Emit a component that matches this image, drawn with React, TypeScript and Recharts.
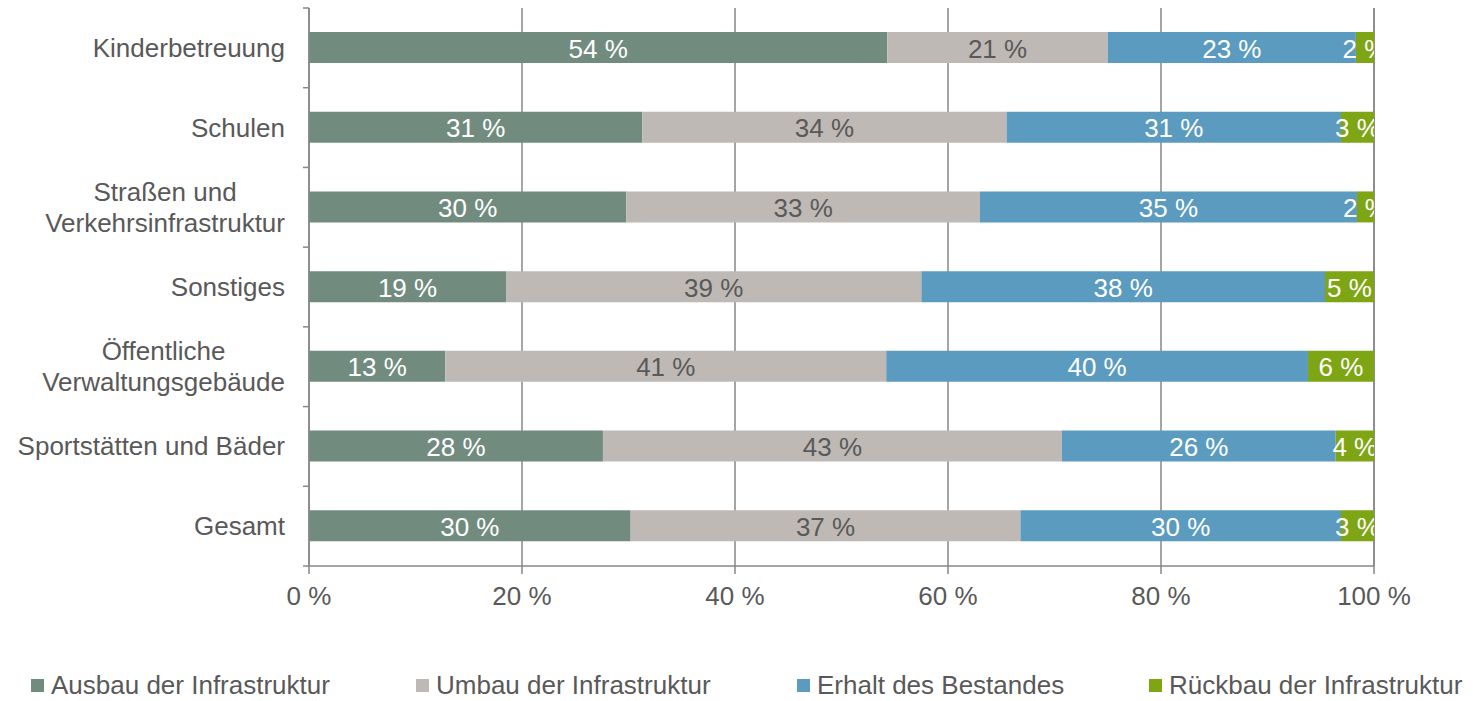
import { Bar, BarChart, CartesianGrid, LabelList, Legend, XAxis, YAxis } from "recharts";

const CATEGORIES = [
  "Kinderbetreuung",
  "Schulen",
  "Straßen und\nVerkehrsinfrastruktur",
  "Sonstiges",
  "Öffentliche\nVerwaltungsgebäude",
  "Sportstätten und Bäder",
  "Gesamt",
];

const AUSBAU = [54.3, 31.3, 29.8, 18.5, 12.8, 27.6, 30.2];
const UMBAU = [20.7, 34.2, 33.2, 39.0, 41.4, 43.1, 36.6];
const ERHALT = [23.3, 31.4, 35.4, 37.9, 39.6, 25.7, 30.1];
const RUECKBAU = [1.7, 3.1, 1.6, 4.6, 6.2, 3.6, 3.1];

const X_TICKS = [0, 20, 40, 60, 80, 100];

const SERIES = [
  { key: "ausbau", name: "Ausbau der Infrastruktur", color: "#718C7F", label: "#FFFFFF" },
  { key: "umbau", name: "Umbau der Infrastruktur", color: "#BEB9B5", label: "#595959" },
  { key: "erhalt", name: "Erhalt des Bestandes", color: "#5B9BBF", label: "#FFFFFF" },
  { key: "rueckbau", name: "Rückbau der Infrastruktur", color: "#7EA514", label: "#FFFFFF" },
];

const data = CATEGORIES.map((name, i) => ({
  name,
  ausbau: AUSBAU[i],
  umbau: UMBAU[i],
  erhalt: ERHALT[i],
  rueckbau: RUECKBAU[i],
}));

const W = 1473;
const H = 701;
const FONT = "'Liberation Sans', Arial, sans-serif";
const TEXT = "#595959";
const LINE = "#878787";
const Y_WIDTH = 309;
const RIGHT = 99;
const LEGEND_X = [31, 416, 797, 1149];

let ctx: CanvasRenderingContext2D | null = null;
function measure(s: string): number {
  if (!ctx) ctx = document.createElement("canvas").getContext("2d");
  if (!ctx) return s.length * 13;
  ctx.font = `26px ${FONT}`;
  return ctx.measureText(s).width;
}

// category label plus Excel-style tick marks between the bands
function CategoryTick(props: any) {
  const { x, y, payload, index } = props;
  const lines = String(payload.value).split("\n");
  const half = payload.offset ?? 40;
  const axisX = x + 24;
  const maxW = Math.max(...lines.map(measure));
  const lh = 31;
  const y0 = y - ((lines.length - 1) * lh) / 2;
  return (
    <g>
      <line x1={axisX - 6} x2={axisX} y1={y - half} y2={y - half} stroke={LINE} strokeWidth={1.5} />
      {index === CATEGORIES.length - 1 && (
        <line x1={axisX - 6} x2={axisX} y1={y + half} y2={y + half} stroke={LINE} strokeWidth={1.5} />
      )}
      {lines.map((l, i) => (
        <text
          key={i}
          x={lines.length > 1 ? x - maxW / 2 : x}
          y={y0 + i * lh}
          textAnchor={lines.length > 1 ? "middle" : "end"}
          dominantBaseline="central"
          fill={TEXT}
          fontSize={26}
          fontFamily={FONT}
        >
          {l}
        </text>
      ))}
    </g>
  );
}

function segmentLabel(color: string) {
  return (props: any) => {
    const { x, y, width, height, value } = props;
    return (
      <text
        x={Number(x) + Number(width) / 2}
        y={Number(y) + Number(height) / 2 + 1}
        textAnchor="middle"
        dominantBaseline="central"
        fill={color}
        fontSize={26}
        fontFamily={FONT}
        clipPath="url(#plotClip)"
      >
        {`${Math.round(Number(value))} %`}
      </text>
    );
  };
}

function LegendRow() {
  return (
    <div style={{ position: "relative", width: W, height: 30, fontFamily: FONT, fontSize: 26, lineHeight: "30px", color: TEXT }}>
      {SERIES.map((s, i) => (
        <div
          key={s.key}
          style={{
            position: "absolute",
            left: LEGEND_X[i],
            top: 0,
            height: 30,
            display: "flex",
            alignItems: "center",
            whiteSpace: "nowrap",
          }}
        >
          <span style={{ display: "inline-block", width: 13, height: 13, background: s.color, marginRight: 7 }} />
          {s.name}
        </div>
      ))}
    </div>
  );
}

export default function App() {
  return (
    <div style={{ position: "fixed", left: 0, top: 0, width: W, height: H, background: "#fff" }}>
      <BarChart
        width={W}
        height={H}
        data={data}
        layout="vertical"
        margin={{ top: 8, right: RIGHT, left: 0, bottom: 0 }}
      >
        <defs>
          <clipPath id="plotClip">
            <rect x={Y_WIDTH} y={0} width={W - Y_WIDTH - RIGHT} height={H} />
          </clipPath>
        </defs>
        <CartesianGrid horizontal={false} stroke={LINE} strokeWidth={1.5} />
        <XAxis
          type="number"
          domain={[0, 100]}
          ticks={X_TICKS}
          tickFormatter={(v: number) => `${v} %`}
          height={105}
          tickSize={8}
          tickMargin={13}
          stroke={LINE}
          strokeWidth={1.5}
          tick={{ fill: TEXT, fontSize: 26, fontFamily: FONT }}
        />
        <YAxis
          type="category"
          dataKey="name"
          width={Y_WIDTH}
          tickLine={false}
          tickSize={6}
          tickMargin={18}
          stroke={LINE}
          strokeWidth={1.5}
          interval={0}
          tick={CategoryTick}
        />
        <Legend
          verticalAlign="bottom"
          wrapperStyle={{ left: 0, top: 670, bottom: "auto", width: W, height: 30 }}
          content={() => <LegendRow />}
        />
        {SERIES.map((s) => (
          <Bar key={s.key} dataKey={s.key} name={s.name} stackId="a" fill={s.color} barSize={31} isAnimationActive={false}>
            <LabelList dataKey={s.key} content={segmentLabel(s.label)} />
          </Bar>
        ))}
      </BarChart>
    </div>
  );
}
